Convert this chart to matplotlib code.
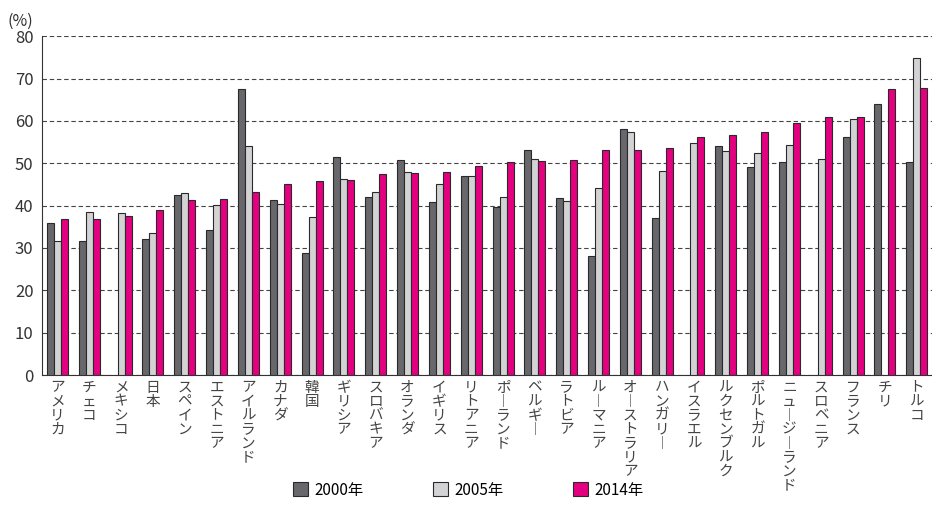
import numpy as np
import matplotlib.pyplot as plt
from matplotlib.patches import Patch

plt.rcParams['font.family'] = ['Noto Sans CJK JP', 'DejaVu Sans']

# 国名（横軸）
countries = ["アメリカ", "チェコ", "メキシコ", "日本", "スペイン", "エストニア",
             "アイルランド", "カナダ", "韓国", "ギリシア", "スロバキア", "オランダ",
             "イギリス", "リトアニア", "ポーランド", "ベルギー", "ラトビア", "ルーマニア",
             "オーストラリア", "ハンガリー", "イスラエル", "ルクセンブルク", "ポルトガル",
             "ニュージーランド", "スロベニア", "フランス", "チリ", "トルコ"]

# 値（%）、データなしは NaN
nan = np.nan
v2000 = [35.9, 31.6, nan, 32.2, 42.4, 34.3, 67.6, 41.4, 28.8, 51.6, 42.0, 50.8,
         40.8, 46.9, 39.7, 53.1, 41.7, 28.1, 58.2, 37.1, nan, 54.1, 49.2,
         50.3, nan, 56.1, 64.0, 50.4]
v2005 = [31.6, 38.6, 38.2, 33.5, 43.0, 40.2, 54.1, 40.3, 37.3, 46.3, 43.2, 48.0,
         45.0, 46.9, 42.1, 50.9, 41.1, 44.1, 57.4, 48.1, 54.9, 53.0, 52.5,
         54.4, 51.1, 60.4, nan, 74.8]
v2014 = [36.8, 36.9, 37.5, 38.9, 41.4, 41.6, 43.2, 45.2, 45.9, 46.1, 47.5, 47.8,
         48.0, 49.4, 50.3, 50.5, 50.8, 53.1, 53.2, 53.6, 56.3, 56.6, 57.4,
         59.5, 60.9, 61.0, 67.6, 67.7]

series_names = ["2000年", "2005年", "2014年"]
colors = ["#68686c", "#d3d3d5", "#e5007f"]

fig = plt.figure(figsize=(9.32, 5.18), dpi=100)
ax = fig.add_axes([0.045, 0.276, 0.955, 0.654])

x = np.arange(len(countries))
w = 0.22
for i, (vals, c) in enumerate(zip([v2000, v2005, v2014], colors)):
    ax.bar(x + (i - 1) * w, vals, width=w, color=c, edgecolor="#2a2a2a", linewidth=0.8, zorder=3)

ax.set_ylim(0, 80)
ax.set_xlim(-0.49, len(countries) - 0.52)
ax.set_yticks(range(0, 81, 10))
ax.tick_params(axis='y', length=0, labelsize=12, pad=6, colors="#333333")
ax.yaxis.grid(True, linestyle=(0, (4, 2.5)), color="#444444", linewidth=0.8, zorder=0)
ax.spines['top'].set_visible(False)
ax.spines['right'].set_visible(False)
ax.spines['left'].set_color("#333333")
ax.spines['bottom'].set_color("#333333")

# 縦書きラベル（長音は縦向きの字形で表示）
ax.set_xticks(x)
vertical = ["\n".join(name.replace("ー", "︱")) for name in countries]
ax.set_xticklabels(vertical, fontsize=10.5, linespacing=1.0, va='top', color="#444444")
ax.tick_params(axis='x', length=0, pad=4)

fig.text(0.008, 0.975, "(%)", fontsize=11.5, va='top', color="#333333")

handles = [Patch(facecolor=c, edgecolor="#2a2a2a", linewidth=0.8) for c in colors]
fig.legend(handles, series_names, loc='center', bbox_to_anchor=(0.5025, 0.054), ncol=3,
           frameon=False, fontsize=11, handlelength=1.0, handleheight=1.0,
           handletextpad=0.4, columnspacing=4.55)

fig.savefig("out.png", dpi=100)
